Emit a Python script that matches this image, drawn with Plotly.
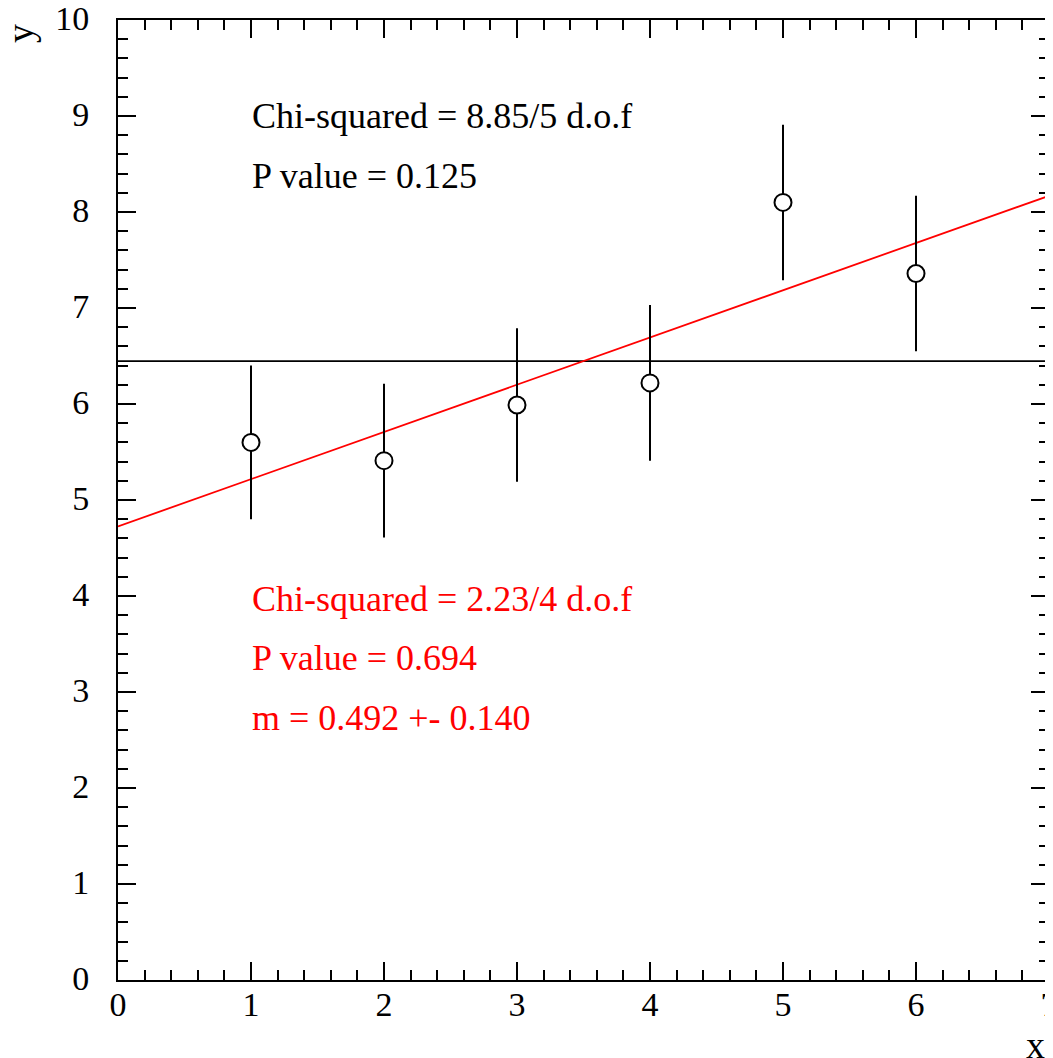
import plotly.graph_objects as go

# data
x_vals = [1, 2, 3, 4, 5, 6]
y_vals = [5.60, 5.41, 5.99, 6.22, 8.10, 7.36]
y_errs = [0.80, 0.80, 0.80, 0.81, 0.81, 0.81]

const_fit = 6.447          # constant (weighted mean) fit
slope_fit = 0.492          # linear fit slope
intercept_fit = 4.725      # linear fit intercept
line_x = [0, 7]

black_text = ["Chi-squared = 8.85/5 d.o.f", "P value = 0.125"]
red_text = ["Chi-squared = 2.23/4 d.o.f", "P value = 0.694", "m = 0.492 +- 0.140"]

FONT = "Liberation Serif"

fig = go.Figure()

fig.add_trace(go.Scatter(
    x=line_x, y=[const_fit for _ in line_x], mode="lines",
    line=dict(color="black", width=1.8), showlegend=False, hoverinfo="skip"))

fig.add_trace(go.Scatter(
    x=line_x, y=[intercept_fit + slope_fit * v for v in line_x], mode="lines",
    line=dict(color="#ff0000", width=1.8), showlegend=False, hoverinfo="skip"))

fig.add_trace(go.Scatter(
    x=x_vals, y=y_vals, mode="markers",
    marker=dict(symbol="circle", size=17, color="white", line=dict(color="black", width=2)),
    error_y=dict(type="data", array=y_errs, visible=True, color="black", thickness=2, width=0),
    showlegend=False, cliponaxis=False))

annotations = []
for i, t in enumerate(black_text):
    annotations.append(dict(x=0.99, y=9.0 - 0.62 * i, xref="x", yref="y", text=t,
                            showarrow=False, xanchor="left", yanchor="middle",
                            font=dict(family=FONT, size=36, color="black")))
for i, t in enumerate(red_text):
    annotations.append(dict(x=0.99, y=3.97 - 0.62 * i, xref="x", yref="y", text=t,
                            showarrow=False, xanchor="left", yanchor="middle",
                            font=dict(family=FONT, size=36, color="#ff0000")))

# page offset compensation (figure is drawn shifted by ~6px right, ~7px down)
DX, DY = 6, 7
W, H = 1053, 1058
L, R, T, B = 116 - DX, 12, 19 - DY, 86
pw, ph = W - L - R, H - T - B

def paper(px, py):
    return (px - DX - L) / pw, 1 - (py - DY - T) / ph

yx, yy = paper(18, 33)
xx, xy = paper(1033, 1044)
annotations.append(dict(x=yx, y=yy, xref="paper", yref="paper", text="y", showarrow=False,
                        xanchor="center", yanchor="middle", borderpad=0,
                        font=dict(family=FONT, size=38, color="black"), textangle=-90))
annotations.append(dict(x=xx, y=xy, xref="paper", yref="paper", text="x", showarrow=False,
                        xanchor="center", yanchor="middle", borderpad=0,
                        font=dict(family=FONT, size=38, color="black")))

axis_common = dict(
    showgrid=False, zeroline=False, showline=True, linecolor="black", linewidth=2,
    mirror="allticks", ticks="inside", ticklen=18, tickwidth=2, tickcolor="black",
    tickfont=dict(family=FONT, size=34, color="black"),
    minor=dict(ticks="inside", ticklen=10, tickwidth=2, tickcolor="black", dtick=0.2),
    dtick=1, tick0=0, automargin=False, ticklabeloverflow="allow",
)

fig.update_layout(
    width=W, height=H,
    margin=dict(l=L, r=R, t=T, b=B, autoexpand=False),
    plot_bgcolor="white", paper_bgcolor="white",
    xaxis=dict(range=[0, 7], ticklabelstandoff=0, **axis_common),
    yaxis=dict(range=[0, 10], ticklabelstandoff=20, **axis_common),
    annotations=annotations,
)

try:
    fig.update_xaxes(ticklabelstandoff=-7)
except ValueError:
    pass
try:
    fig.update_yaxes(ticklabelshift=-2)
except ValueError:
    pass

fig.write_html("out.html")
